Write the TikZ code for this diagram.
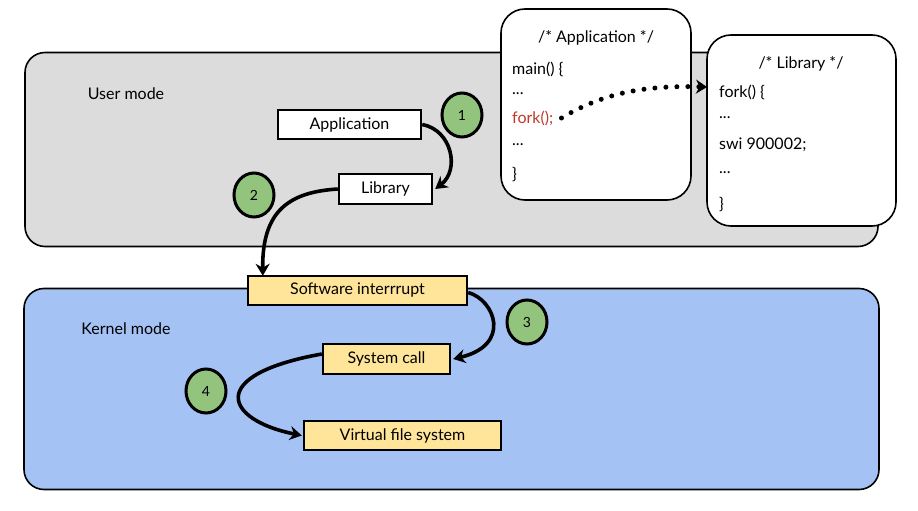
\documentclass[tikz,border=0pt]{standalone}
\usepackage{fontspec}
\setmainfont{Lato}
\usetikzlibrary{arrows.meta,shapes.geometric}
\definecolor{usergray}{HTML}{DCDCDC}
\definecolor{kernblue}{HTML}{A4C2F4}
\definecolor{boxyellow}{HTML}{FFE599}
\definecolor{badgegreen}{HTML}{93C47D}
\definecolor{codered}{HTML}{C0392B}
\tikzset{
  modebox/.style={draw=black, line width=1.6pt, rounded corners=20pt, inner sep=0pt},
  codebox/.style={draw=black, line width=1.6pt, fill=white, rounded corners=24pt, inner sep=0pt},
  stepbox/.style={draw=black, line width=2.4pt, inner sep=0pt, font=\fontsize{16}{18}\selectfont},
  badge/.style={ellipse, draw=black, line width=3pt, fill=badgegreen, minimum width=40pt, minimum height=44pt, inner sep=0pt, font=\fontsize{14}{16}\selectfont},
  codetxt/.style={anchor=west, inner sep=0pt, font=\fontsize{16}{18}\selectfont},
  lbl/.style={inner sep=0pt, font=\fontsize{16}{18}\selectfont},
  flow/.style={line width=3.6pt, -{Stealth[length=12pt,width=14pt]}},
  dots/.style={line width=5pt, line cap=round, dash pattern=on 0pt off 11pt, -{Stealth[length=11pt,width=14pt]}}
}
\begin{document}
\begin{tikzpicture}[x=1pt,y=-1pt]
\useasboundingbox[fill=white] (0,0) rectangle (918,511);
% mode areas
\node[modebox, fill=usergray, minimum width=853pt, minimum height=194pt] (user) at (451.5,149.5) {};
\node[modebox, fill=kernblue, minimum width=855pt, minimum height=201pt] (kern) at (451.5,389) {};
\node[lbl] (userlbl) at (126,94) {User mode};
\node[lbl] (kernlbl) at (126,329) {Kernel mode};
% code boxes
\node[codebox, minimum width=190pt, minimum height=191pt] (appcode) at (596,104.5) {};
\node[codebox, minimum width=189pt, minimum height=191pt] (libcode) at (801.5,130.5) {};
\node[lbl] (apphead) at (596,38) {/* Application */};
\node[codetxt] (a1) at (512,69) {main() \{};
\node[codetxt] (a2) at (512,94) {...};
\node[codetxt, text=codered] (afork) at (512,118) {fork();};
\node[codetxt] (a4) at (512,145) {...};
\node[codetxt] (a5) at (512,175) {\}};
\node[lbl] (libhead) at (801,64) {/* Library */};
\node[codetxt] (lfork) at (719,92) {fork() \{};
\node[codetxt] (l2) at (719,118) {...};
\node[codetxt] (l3) at (719,145) {swi 900002;};
\node[codetxt] (l4) at (719,173) {...};
\node[codetxt] (l5) at (719,205) {\}};
\coordinate (libin) at (707,87);
% flow boxes
\node[stepbox, fill=white, minimum width=143pt, minimum height=29pt] (app) at (349.5,124.5) {Application};
\node[stepbox, fill=white, minimum width=93pt, minimum height=30pt] (lib) at (385.5,189) {Library};
\node[stepbox, fill=boxyellow, minimum width=219pt, minimum height=29pt] (swi) at (357.5,290.5) {Software interrrupt};
\node[stepbox, fill=boxyellow, minimum width=127pt, minimum height=30pt] (sys) at (386.5,359) {System call};
\node[stepbox, fill=boxyellow, minimum width=197pt, minimum height=29pt] (vfs) at (402.5,435.5) {Virtual file system};
% badges
\node[badge] (b1) at (462,115) {1};
\node[badge] (b2) at (254,195) {2};
\node[badge] (b3) at (527,322) {3};
\node[badge] (b4) at (206,391) {4};
% connectors
\draw[flow] (app.east) .. controls (452,130) and (460,170) .. ([xshift=2pt]lib.east);
\draw[flow] (lib.west) .. controls (290,192) and (262,210) .. ([xshift=16pt,yshift=-1pt]swi.north west);
\draw[flow] ([yshift=-2pt]swi.east) .. controls (495,300) and (512,345) .. ([xshift=2pt]sys.east);
\draw[flow] ([yshift=5pt]sys.west) .. controls (205,375) and (225,420) .. ([xshift=-1pt]vfs.west);
\draw[dots] ([xshift=8pt]afork.east) .. controls (600,95) and (640,85) .. (libin);
\end{tikzpicture}
\end{document}
